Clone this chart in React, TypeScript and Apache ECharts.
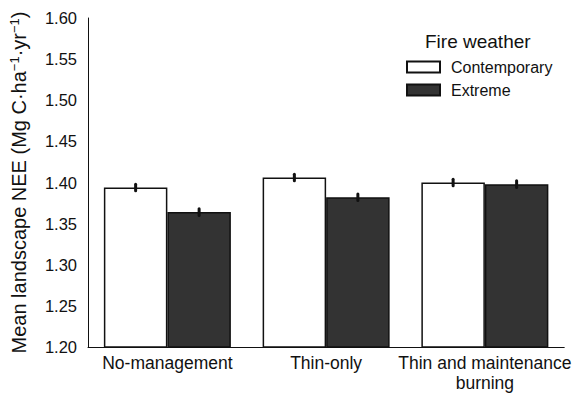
import React, { useEffect, useRef } from "react";
import * as echarts from "echarts";

const categories = ["No-management", "Thin-only", "Thin and maintenance\nburning"];
const seriesNames = ["Contemporary", "Extreme"];
const contemporary = [1.394, 1.406, 1.4];
const extreme = [1.364, 1.382, 1.398];
const contemporaryErr = [0.004, 0.004, 0.004];
const extremeErr = [0.004, 0.004, 0.004];
const yTicks = { min: 1.2, max: 1.6, interval: 0.05 };

const FONT = "'Liberation Sans', Arial, Helvetica, sans-serif";

export default function App() {
  const ref = useRef<HTMLDivElement>(null);
  useEffect(() => {
    if (!ref.current) return;
    const chart = echarts.init(ref.current, undefined, { renderer: "svg" });
    const errData = (vals: number[], errs: number[], side: number) =>
      vals.map((v, i) => [i, v, errs[i], side]);
    const renderErr = (params: any, api: any) => {
      const idx = api.value(0);
      const val = api.value(1);
      const err = api.value(2);
      const side = api.value(3);
      const band = api.size([1, 0])[0];
      const c = api.coord([idx, val]);
      const x = c[0] + side * band * 0.2;
      const top = api.coord([idx, val + err])[1];
      const bot = api.coord([idx, val - err])[1];
      return {
        type: "line",
        shape: { x1: x, y1: top, x2: x, y2: bot },
        style: { stroke: "#111", lineWidth: 3, lineCap: "round" },
        z2: 10,
      };
    };
    chart.setOption({
      animation: false,
      textStyle: { fontFamily: FONT },
      title: {
        text: "Fire weather",
        left: 425,
        top: 32,
        padding: 0,
        textStyle: { fontSize: 19, fontWeight: "normal", color: "#111", fontFamily: FONT },
      },
      legend: {
        data: seriesNames,
        orient: "vertical",
        left: 406,
        top: 59,
        padding: 0,
        itemWidth: 33,
        itemHeight: 11,
        itemGap: 7,
        icon: "rect",
        textStyle: { fontSize: 16, color: "#111", fontFamily: FONT, padding: [0, 0, 0, 6] },
      },
      grid: { left: 88, right: 7, top: 18, bottom: 45 },
      xAxis: {
        type: "category",
        data: categories,
        axisLine: { lineStyle: { color: "#111", width: 1 } },
        axisTick: { show: false },
        axisLabel: {
          color: "#111",
          fontSize: 17.5,
          fontFamily: FONT,
          margin: 6,
          lineHeight: 20,
          interval: 0,
        },
      },
      yAxis: {
        type: "value",
        min: yTicks.min,
        max: yTicks.max,
        interval: yTicks.interval,
        splitLine: { show: false },
        axisTick: { show: false },
        axisLine: { show: true, lineStyle: { color: "#111", width: 1 } },
        axisLabel: {
          color: "#111",
          fontSize: 16.5,
          fontFamily: FONT,
          margin: 11,
          formatter: (v: number) => v.toFixed(2),
        },
        name: "{a|Mean landscape NEE (Mg C·ha}{s|−1}{a|·yr}{s|−1}{a|)}",
        nameLocation: "middle",
        nameGap: 58,
        nameRotate: 90,
        nameTextStyle: {
          rich: {
            a: { fontSize: 20, color: "#111", fontFamily: FONT, lineHeight: 22 },
            s: { fontSize: 13, color: "#111", fontFamily: FONT, verticalAlign: "top", lineHeight: 22 },
          },
        },
      },
      series: [
        {
          name: seriesNames[0],
          type: "bar",
          data: contemporary,
          barGap: "0%",
          barCategoryGap: "20%",
          itemStyle: { color: "#ffffff", borderColor: "#111", borderWidth: 1.5 },
        },
        {
          name: seriesNames[1],
          type: "bar",
          data: extreme,
          barGap: "0%",
          barCategoryGap: "20%",
          itemStyle: { color: "#333333", borderColor: "#111", borderWidth: 1.5 },
        },
        {
          type: "custom",
          renderItem: renderErr,
          data: errData(contemporary, contemporaryErr, -1),
          encode: { x: 0, y: 1 },
          z: 5,
        },
        {
          type: "custom",
          renderItem: renderErr,
          data: errData(extreme, extremeErr, 1),
          encode: { x: 0, y: 1 },
          z: 5,
        },
      ],
    });
    return () => chart.dispose();
  }, []);
  return (
    <div
      ref={ref}
      style={{ position: "absolute", left: 0, top: 0, width: 574, height: 393 }}
    />
  );
}
